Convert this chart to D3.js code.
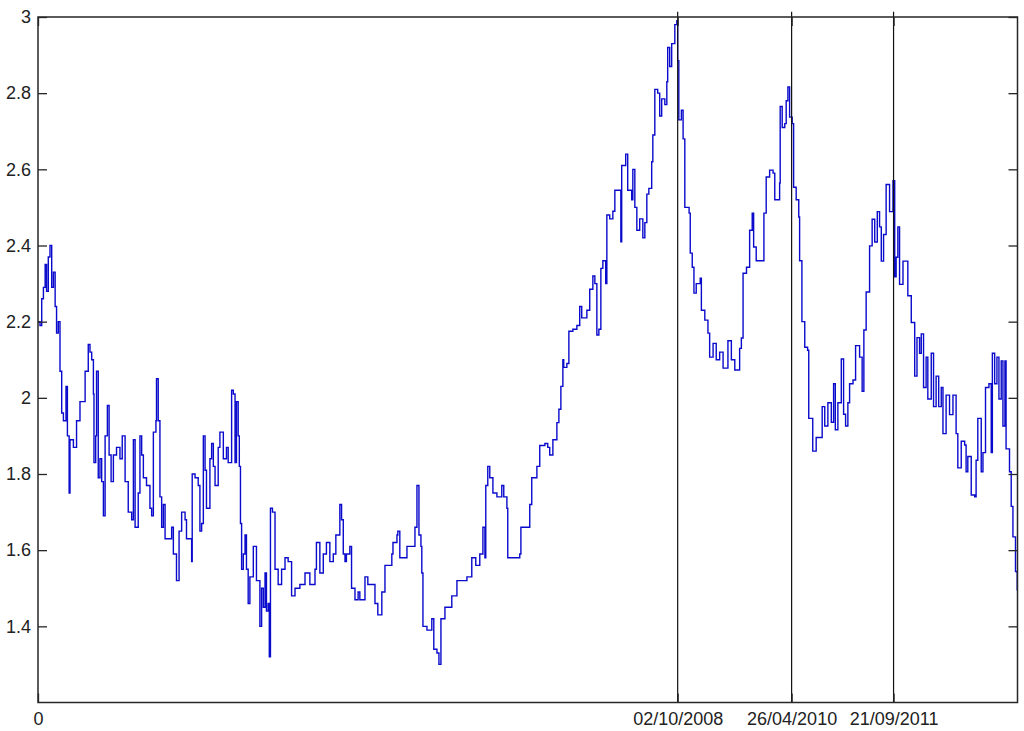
<!DOCTYPE html>
<html>
<head>
<meta charset="utf-8">
<script src="https://cdn.jsdelivr.net/npm/d3@7"></script>
<style>
  html, body { margin: 0; padding: 0; background: #fff; }
  svg { display: block; }
  text { font-family: "Liberation Sans", Arial, Helvetica, sans-serif; }
</style>
</head>
<body>
<svg id="chart" width="1024" height="731"></svg>
<script>
// ---- data (trading-day index, value) ----
const dayIndex = [
  1,7,13,19,25,30,36,42,48,54,60,65,71,77,83,89,98,103,109,112,124,135,147,159,165,176,182,188,194,196,202,205,211,217,223,229,235,243,249,256,264,275,287,295,305,316,328,334,340,351,357,363,369,380,392,398,404,413,415,421,427,433,439,445,456,468,474,485,494,503,515,520,532,538,540,550,561,567,573,579,585,590,602,608,614,620,631,637,649,660,666,678,684,690,695,701,705,709,713,719,725,730,736,742,754,765,777,783,789,795,800,806,810,814,821,830,841,853,865,876,888,900,917,935,952,970,975,987,999,1010,1022,1034,1043,1057,1063,1069,1075,1080,1092,1098,1110,1121,
  1127,1145,1155,1180,1190,1204,1215,1239,1243,1257,1260,1267,1292,1320,1327,1334,1341,1344,1348,1362,1379,1386,1397,1404,1411,1425,1449,1467,1502,1519,1533,1547,1558,1565,1568,1575,1582,1593,1607,1624,1631,1642,1645,1652,1670,1687,1691,1712,1722,1729,1740,1747,1757,1775,1785,1792,1803,1817,1824,1831,1838,1841,1852,1859,1873,1887,1897,1904,1922,1932,1943,1950,1957,1964,1971,1978,1988,1992,2002,2013,2020,2030,2041,2044,2058,2065,2079,2083,2090,2097,2107,2118,2125,2132,2139,2149,2153,2160,2170,2177,2184,2195,2202,2205,2212,2219,2230,2237,2240,2244,
  2247,2253,2259,2265,2273,2280,2284,2291,2297,2305,2319,2323,2335,2346,2352,2364,2375,2387,2399,2416,2428,2440,2457,2463,2469,2481,2492,2501,2506,2515,2536,2542,2550,2562,2574,2580,2585,2597,2599,2606,2615,2620,2626,2632,2641,2646,2655,2664,2667,2675,2685,2695,2699,2713,2725,2737,2746,2755,2766,2778,2786,2792,2801,2813,2821,2828,2836,2842,2854,2863,2877,2886,2892,2900,2912,2921,2930,2939,2947,2953,2961,2970,2982,2994,3000,3005,3011,3017,3029,3040,3046,3058,3070,3078,3087,3093,3101,3110,3116,3128,3136,3145,3154,3163,3169,3180,3192,3204,3215,3221,3233,3245,3250,3256,3268,3280,3285,3291,3303,3309,3318,3330,3338,3342,3350,3358,3365,3373,3379,3386,3390,3402,3408,3414,3423,3429
];
const values = [
  2.20,2.19,2.26,2.29,2.35,2.28,2.37,2.40,2.29,2.33,2.24,2.17,2.20,2.07,1.96,1.94,2.03,1.90,1.75,1.89,1.87,1.94,1.99,1.99,2.07,2.14,2.12,2.10,2.01,1.83,1.90,2.07,1.79,1.84,1.78,1.69,1.90,1.98,1.85,1.78,1.85,1.87,1.84,1.90,1.78,1.70,1.68,1.89,1.66,1.75,1.90,1.85,1.79,1.77,1.71,1.69,1.91,1.94,2.05,1.94,1.74,1.66,1.72,1.63,1.63,1.66,1.59,1.52,1.65,1.70,1.68,1.63,1.63,1.57,1.80,1.79,1.77,1.65,1.67,1.90,1.81,1.71,1.84,1.88,1.82,1.77,1.87,1.91,1.84,1.87,1.83,2.02,2.01,1.83,1.99,1.90,1.82,1.67,1.55,1.59,1.64,1.55,1.46,1.53,1.61,1.52,1.40,1.50,1.45,1.54,1.44,1.46,1.32,1.71,1.70,1.55,1.51,1.55,1.58,1.57,1.48,1.50,1.51,1.54,1.51,1.55,1.62,1.54,1.59,1.62,1.57,1.59,1.64,1.72,1.68,1.59,1.57,1.59,1.61,1.50,1.47,1.49,
  1.47,1.53,1.51,1.46,1.43,1.49,1.56,1.59,1.62,1.64,1.65,1.58,1.61,1.66,1.77,1.64,1.61,1.54,1.40,1.39,1.42,1.34,1.33,1.30,1.42,1.45,1.48,1.52,1.53,1.58,1.56,1.59,1.66,1.58,1.77,1.82,1.79,1.75,1.74,1.77,1.74,1.71,1.58,1.58,1.58,1.59,1.66,1.66,1.72,1.79,1.79,1.82,1.875,1.88,1.87,1.85,1.89,1.935,1.97,2.03,2.10,2.08,2.09,2.175,2.18,2.19,2.24,2.21,2.23,2.285,2.32,2.30,2.165,2.18,2.34,2.36,2.30,2.48,2.47,2.49,2.545,2.545,2.41,2.61,2.64,2.545,2.52,2.60,2.50,2.44,2.47,2.42,2.46,2.535,2.55,2.62,2.69,2.81,2.80,2.74,2.785,2.77,2.83,2.92,2.87,2.93,2.98,2.99,2.885,2.73,
  2.73,2.755,2.68,2.50,2.50,2.485,2.38,2.343,2.275,2.30,2.314,2.23,2.204,2.17,2.107,2.143,2.10,2.12,2.078,2.15,2.10,2.073,2.13,2.157,2.327,2.343,2.44,2.485,2.396,2.36,2.36,2.485,2.58,2.598,2.59,2.52,2.52,2.564,2.765,2.71,2.72,2.78,2.816,2.737,2.72,2.553,2.52,2.475,2.36,2.20,2.133,2.125,1.946,1.86,1.896,1.896,1.977,1.926,1.987,1.936,2.037,1.916,1.987,2.102,1.957,1.926,1.987,2.037,2.047,2.137,2.107,2.017,2.178,2.278,2.399,2.469,2.409,2.489,2.449,2.359,2.429,2.56,2.489,2.57,2.318,2.369,2.449,2.298,2.359,2.359,2.268,2.198,2.057,2.158,2.117,2.168,2.027,2.107,1.997,2.117,1.977,2.057,1.977,2.027,1.906,2.007,1.956,2.007,1.906,1.816,1.886,1.876,1.806,1.846,1.745,1.740,1.836,1.946,1.806,1.856,2.027,2.037,1.856,2.117,2.037,2.107,1.997,2.097,1.926,2.097,1.866,1.806,1.715,1.635,1.544,1.494
];
const yTicks = [1.4, 1.6, 1.8, 2, 2.2, 2.4, 2.6, 2.8, 3];
const xTickIndex = [0, 2240, 2639, 2996];
const xTickLabels = ["0", "02/10/2008", "26/04/2010", "21/09/2011"];
const markerIndex = [2240, 2639, 2996];
const xMax = 3430;
const yDomain = [1.2, 3];

// ---- layout ----
const svg = d3.select("#chart");
const mLeft = 38, mRight = 1017.5, mTop = 17, mBottom = 702.5;
const x = d3.scaleLinear().domain([0, xMax]).range([mLeft, mRight]);
const y = d3.scaleLinear().domain(yDomain).range([mBottom, mTop]);

const data = dayIndex.map((d, i) => ({ i: d, v: values[i] }));

const axisColor = "#262626";
const fontSize = "18px";

// data line
svg.append("path")
  .datum(data)
  .attr("fill", "none")
  .attr("stroke", "#0a0acc")
  .attr("stroke-width", 1.4)
  .attr("stroke-linejoin", "miter")
  .attr("d", d3.line().x(d => x(d.i)).y(d => y(d.v)).curve(d3.curveStepAfter));

// vertical event lines
svg.append("g").selectAll("line")
  .data(markerIndex)
  .join("line")
  .attr("x1", d => x(d)).attr("x2", d => x(d))
  .attr("y1", y(yDomain[0])).attr("y2", y(3.014))
  .attr("stroke", "#111")
  .attr("stroke-width", 1.2);

// axes
const fmt = d => (d === 2 || d === 3) ? String(d) : d3.format(".1f")(d);

const gl = svg.append("g").attr("transform", `translate(${mLeft},0)`)
  .call(d3.axisLeft(y).tickValues(yTicks).tickFormat(fmt).tickSizeInner(-9).tickSizeOuter(0).tickPadding(7));
const gr = svg.append("g").attr("transform", `translate(${mRight},0)`)
  .call(d3.axisRight(y).tickValues(yTicks).tickFormat("").tickSizeInner(-9).tickSizeOuter(0));
const gb = svg.append("g").attr("transform", `translate(0,${mBottom})`)
  .call(d3.axisBottom(x).tickValues(xTickIndex).tickFormat((d, i) => xTickLabels[i]).tickSizeInner(-9).tickSizeOuter(0).tickPadding(10));
const gt = svg.append("g").attr("transform", `translate(0,${mTop})`)
  .call(d3.axisTop(x).tickValues(xTickIndex).tickFormat("").tickSizeInner(-9).tickSizeOuter(0));

[gl, gr, gb, gt].forEach(g => {
  g.select(".domain").remove();
  g.selectAll(".tick line").attr("stroke", axisColor).attr("stroke-width", 1.3);
  g.selectAll(".tick text").attr("fill", "#222").style("font-size", fontSize)
    .style("font-family", '"Liberation Sans", Arial, Helvetica, sans-serif');
});

// frame
svg.append("rect")
  .attr("x", mLeft).attr("y", mTop)
  .attr("width", mRight - mLeft).attr("height", mBottom - mTop)
  .attr("fill", "none")
  .attr("stroke", axisColor)
  .attr("stroke-width", 1.5);
</script>
</body>
</html>
